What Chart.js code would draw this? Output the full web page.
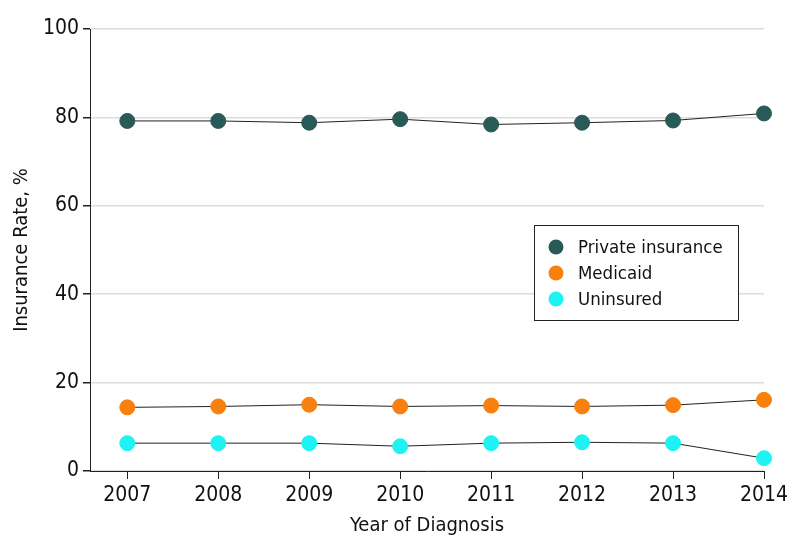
<!DOCTYPE html>
<html>
<head>
<meta charset="utf-8">
<script src="https://cdn.jsdelivr.net/npm/chart.js@4/dist/chart.umd.min.js"></script>
<style>
  html, body { margin: 0; padding: 0; background: #fff; }
  #wrap { width: 794px; height: 556px; }
</style>
</head>
<body>
<div id="wrap"><canvas id="myChart" width="794" height="556"></canvas></div>
<script>
var years = [2007, 2008, 2009, 2010, 2011, 2012, 2013, 2014];
var privateRate = [79.2, 79.2, 78.8, 79.6, 78.4, 78.8, 79.3, 80.9];
var medicaidRate = [14.4, 14.6, 15.0, 14.6, 14.8, 14.6, 14.9, 16.1];
var uninsuredRate = [6.3, 6.3, 6.3, 5.6, 6.3, 6.5, 6.3, 2.9];
var yTicks = [0, 20, 40, 60, 80, 100];

var FONT = '"Liberation Sans Narrow", "DejaVu Sans Condensed", "Liberation Sans", sans-serif';

function pts(vals) {
  return years.map(function (yr, i) { return { x: yr, y: vals[i] }; });
}

function series(label, vals, color) {
  return {
    label: label,
    data: pts(vals),
    borderColor: '#222',
    borderWidth: 1,
    backgroundColor: color,
    pointBackgroundColor: color,
    pointBorderColor: color,
    pointRadius: 7.5,
    pointHoverRadius: 7.5,
    fill: false,
    tension: 0,
    clip: false
  };
}

// legend drawn inside plot area
var boxLegend = {
  id: 'boxLegend',
  afterDraw: function (chart) {
    var c = chart.ctx;
    var x0 = 534, y0 = 225, w = 204, h = 95;
    c.save();
    c.fillStyle = '#fff';
    c.fillRect(x0, y0, w, h);
    c.strokeStyle = '#222';
    c.lineWidth = 1;
    c.strokeRect(x0 + 0.5, y0 + 0.5, w, h);
    c.font = '18.5px ' + FONT;
    c.textBaseline = 'middle';
    chart.data.datasets.forEach(function (ds, i) {
      var cy = y0 + 22 + i * 26;
      c.beginPath();
      c.fillStyle = ds.pointBackgroundColor;
      c.arc(x0 + 22, cy, 7.5, 0, Math.PI * 2);
      c.fill();
      c.fillStyle = '#111';
      c.fillText(ds.label, x0 + 44, cy + 1);
    });
    c.restore();
  }
};

document.addEventListener('DOMContentLoaded', function () {
  var ctx = document.getElementById('myChart').getContext('2d');
  var myChart = new Chart(ctx, {
    type: 'line',
    data: {
      datasets: [
        series('Private insurance', privateRate, '#285a57'),
        series('Medicaid', medicaidRate, '#f7800e'),
        series('Uninsured', uninsuredRate, '#1ef2f2')
      ]
    },
    options: {
      responsive: false,
      animation: false,
      layout: { padding: { top: 29, right: 30, left: 0, bottom: 0 } },
      plugins: {
        legend: { display: false },
        tooltip: { enabled: false }
      },
      scales: {
        x: {
          type: 'linear',
          min: 2006.59,
          max: 2014,
          afterBuildTicks: function (axis) {
            axis.ticks = years.map(function (v) { return { value: v }; });
          },
          afterFit: function (axis) { axis.height = 85; },
          border: { display: true, color: '#222', width: 1 },
          grid: { drawOnChartArea: false, drawTicks: true, tickLength: 8, color: '#222' },
          ticks: {
            color: '#111',
            font: { family: FONT, size: 21 },
            padding: 4,
            maxRotation: 0,
            callback: function (v) { return String(v); }
          },
          title: {
            display: true,
            text: 'Year of Diagnosis',
            color: '#111',
            font: { family: FONT, size: 20 },
            padding: { top: 0, bottom: 18 }
          }
        },
        y: {
          min: 0,
          max: 100,
          afterBuildTicks: function (axis) {
            axis.ticks = yTicks.map(function (v) { return { value: v }; });
          },
          afterFit: function (axis) { axis.width = 90; },
          border: { display: true, color: '#222', width: 1 },
          grid: {
            color: '#dcdcdc',
            lineWidth: 1.5,
            drawTicks: true,
            tickLength: 7,
            tickColor: '#222'
          },
          ticks: {
            color: '#111',
            font: { family: FONT, size: 21 },
            padding: 4
          },
          title: {
            display: true,
            text: 'Insurance Rate, %',
            color: '#111',
            font: { family: FONT, size: 20 },
            padding: { top: 10, bottom: 0 }
          }
        }
      }
    },
    plugins: [boxLegend]
  });
});
</script>
</body>
</html>
